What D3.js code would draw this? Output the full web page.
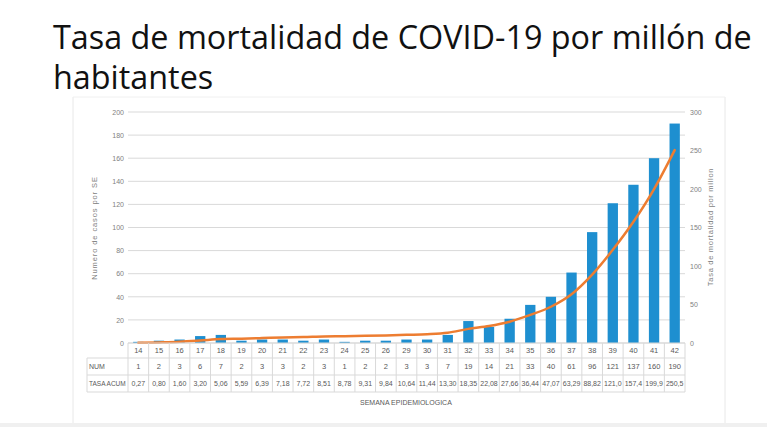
<!DOCTYPE html>
<html>
<head>
<meta charset="utf-8">
<script src="https://cdn.jsdelivr.net/npm/d3@7"></script>
<style>
  body { margin: 0; background: #fff; }
  svg { display: block; }
</style>
</head>
<body>
<svg class="plot" width="767" height="427"></svg>
<script>
// data
var weeks = ["14","15","16","17","18","19","20","21","22","23","24","25","26","29","30","31","32","33","34","35","36","37","38","39","40","41","42"];
var num = [1,2,3,6,7,2,3,3,2,3,1,2,2,3,3,7,19,14,21,33,40,61,96,121,137,160,190];
var tasa = [0.27,0.80,1.60,3.20,5.06,5.59,6.39,7.18,7.72,8.51,8.78,9.31,9.84,10.64,11.44,13.30,18.35,22.08,27.66,36.44,47.07,63.29,88.82,121.0,157.4,199.9,250.5];
var tasaLabels = ["0,27","0,80","1,60","3,20","5,06","5,59","6,39","7,18","7,72","8,51","8,78","9,31","9,84","10,64","11,44","13,30","18,35","22,08","27,66","36,44","47,07","63,29","88,82","121,0","157,4","199,9","250,5"];
var leftTicks = [0,20,40,60,80,100,120,140,160,180,200];
var rightTicks = [0,50,100,150,200,250,300];

var svg = d3.select(".plot");
var font = "'Liberation Sans', Arial, sans-serif";
var grey = "#7f7f7f";

// slide title, one text wrapped over two lines
var title = svg.append("text")
    .style("font-family", "'Open Sans', sans-serif")
    .style("fill", "#111");
var t1 = title.append("tspan").attr("x", 53).attr("y", 49).text("Tasa de mortalidad de COVID-19 por millón de");
title.append("tspan").attr("x", 53).attr("y", 89).text("habitantes");
var fs = 30;
title.style("font-size", fs + "px");
fs = fs * 699 / t1.node().getComputedTextLength();
title.style("font-size", fs + "px");

// frame of the pasted chart
svg.append("line").attr("x1", 73).attr("x2", 73).attr("y1", 97).attr("y2", 423).style("stroke", "#e8e8e8");
svg.append("line").attr("x1", 725).attr("x2", 725).attr("y1", 97).attr("y2", 423).style("stroke", "#e8e8e8");
svg.append("line").attr("x1", 73).attr("x2", 725).attr("y1", 97).attr("y2", 97).style("stroke", "#f0f0f0");
svg.append("rect").attr("x", 0).attr("y", 423).attr("width", 767).attr("height", 4).style("fill", "#f0f0f0");

// scales
var x = d3.scaleBand().domain(weeks).range([128, 685]).paddingInner(0.5).paddingOuter(0.25);
var xc = d3.scaleBand().domain(weeks).range([128, 685]);
var yL = d3.scaleLinear().domain([0, 200]).range([343, 112]);
var yR = d3.scaleLinear().domain([0, 300]).range([343, 112]);

var g = svg.append("g").style("font-family", font);

// grid lines
g.selectAll(".grid")
    .data(leftTicks)
    .enter().append("line")
    .attr("x1", 128).attr("x2", 685)
    .attr("y1", function(d) { return yL(d); })
    .attr("y2", function(d) { return yL(d); })
    .style("stroke", "#d9d9d9")
    .style("stroke-width", 1);

// left axis
g.append("g")
    .attr("transform", "translate(128,0)")
    .call(d3.axisLeft(yL).tickValues(leftTicks).tickSize(0).tickPadding(4))
    .call(function(a) { a.select(".domain").remove(); })
    .selectAll("text").style("font-size", "7px").style("fill", grey).style("font-family", font);

// right axis
g.append("g")
    .attr("transform", "translate(685,0)")
    .call(d3.axisRight(yR).tickValues(rightTicks).tickSize(0).tickPadding(5))
    .call(function(a) { a.select(".domain").remove(); })
    .selectAll("text").style("font-size", "7px").style("fill", grey).style("font-family", font);

// axis titles
g.append("text")
    .attr("transform", "translate(97,228) rotate(-90)")
    .style("text-anchor", "middle")
    .style("font-size", "7.5px")
    .style("letter-spacing", "0.9px")
    .style("fill", grey)
    .text("Numero de casos por SE");

g.append("text")
    .attr("transform", "translate(713,227) rotate(-90)")
    .style("text-anchor", "middle")
    .style("font-size", "7.5px")
    .style("letter-spacing", "0.7px")
    .style("fill", grey)
    .text("Tasa de mortalidad por millon");

// bars
g.selectAll(".bar")
    .data(num)
    .enter().append("rect")
    .attr("class", "bar")
    .attr("x", function(d, i) { return x(weeks[i]); })
    .attr("y", function(d) { return yL(d); })
    .attr("width", x.bandwidth())
    .attr("height", function(d) { return yL(0) - yL(d); })
    .style("fill", "#1e8fd0");

// rate line
var line = d3.line()
    .x(function(d, i) { return xc(weeks[i]) + xc.bandwidth() / 2; })
    .y(function(d) { return yR(d); })
    .curve(d3.curveMonotoneX);

g.append("path")
    .datum(tasa)
    .attr("d", line)
    .style("fill", "none")
    .style("stroke", "#ed7d31")
    .style("stroke-width", 2.5)
    .style("stroke-linecap", "round");

// data table under the chart
var rows = [343, 358, 375, 392];
var tableColor = "#d9d9d9";
var tbl = g.append("g");

// horizontal rules
tbl.append("line").attr("x1", 128).attr("x2", 685).attr("y1", rows[0]).attr("y2", rows[0]).style("stroke", tableColor);
[1, 2, 3].forEach(function(r) {
  tbl.append("line").attr("x1", 87).attr("x2", 685).attr("y1", rows[r]).attr("y2", rows[r]).style("stroke", tableColor);
});
// vertical rules
tbl.selectAll(".vcol")
    .data(weeks.concat(["end"]))
    .enter().append("line")
    .attr("x1", function(d, i) { return 128 + i * xc.step(); })
    .attr("x2", function(d, i) { return 128 + i * xc.step(); })
    .attr("y1", rows[0]).attr("y2", rows[3])
    .style("stroke", tableColor);
tbl.append("line").attr("x1", 87).attr("x2", 87).attr("y1", rows[1]).attr("y2", rows[3]).style("stroke", tableColor);

function cellText(values, r, size) {
  tbl.selectAll(".row" + r)
      .data(values)
      .enter().append("text")
      .attr("x", function(d, i) { return xc(weeks[i]) + xc.bandwidth() / 2; })
      .attr("y", (rows[r] + rows[r + 1]) / 2)
      .attr("dy", "0.35em")
      .style("text-anchor", "middle")
      .style("font-size", size)
      .style("fill", "#595959")
      .text(function(d) { return d; });
}
cellText(weeks, 0, "7.5px");
cellText(num, 1, "7.5px");
cellText(tasaLabels, 2, "7px");

tbl.append("text").attr("x", 89).attr("y", (rows[1] + rows[2]) / 2).attr("dy", "0.35em")
    .style("font-size", "7px").style("fill", "#595959").text("NUM");
tbl.append("text").attr("x", 89).attr("y", (rows[2] + rows[3]) / 2).attr("dy", "0.35em")
    .style("font-size", "6.5px").style("fill", "#595959").text("TASA ACUM");

g.append("text")
    .attr("x", 360)
    .attr("y", 405)
    .style("font-size", "7px")
    .style("fill", "#595959")
    .text("SEMANA EPIDEMIOLOGICA");
</script>
</body>
</html>
